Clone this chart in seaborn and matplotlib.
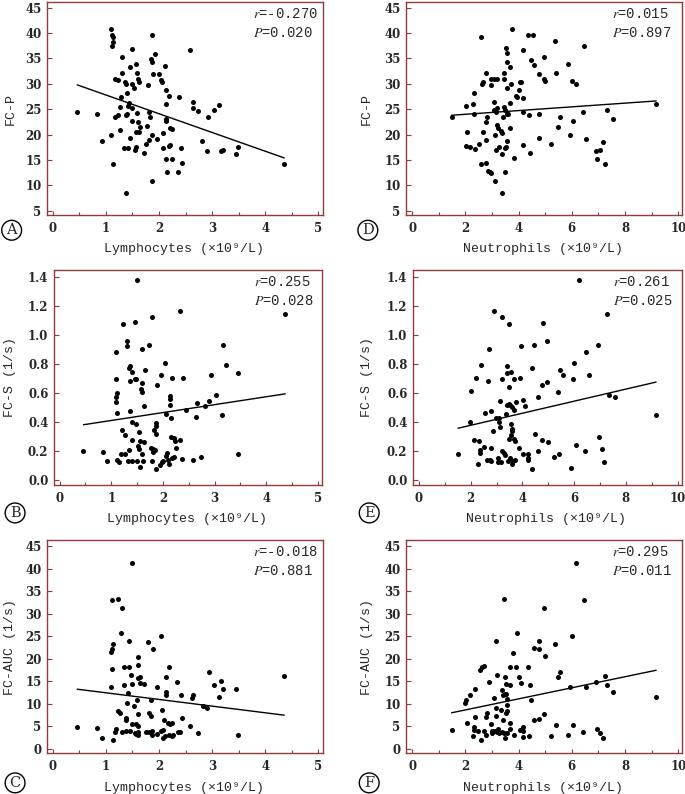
import matplotlib
matplotlib.use('Agg')
import matplotlib.pyplot as plt
from matplotlib.ticker import MultipleLocator, FormatStrFormatter
import seaborn as sns

# A: lymphocytes vs FC-P
lym_a = [0.46, 0.84, 0.92, 1.09, 1.12, 1.13, 1.14, 1.11, 1.10, 1.13,
         1.17, 1.23, 1.18, 1.22, 1.28, 1.27, 1.27, 1.30, 1.31, 1.36,
         1.37, 1.37, 1.39, 1.35, 1.41, 1.37, 1.39, 1.42, 1.44, 1.45,
         1.45, 1.49, 1.50, 1.52, 1.49, 1.50, 1.54, 1.57, 1.56, 1.58,
         1.60, 1.62, 1.59, 1.60, 1.57, 1.62, 1.65, 1.72, 1.76, 1.78,
         1.79, 1.82, 1.84, 1.85, 1.86, 1.87, 1.88, 1.86, 1.82, 1.86,
         1.93, 1.97, 2.00, 2.04, 2.06, 2.07, 2.07, 2.11, 2.13, 2.13,
         2.14, 2.14, 2.14, 2.15, 2.19, 2.18, 2.21, 2.20, 2.25, 2.25,
         2.35, 2.38, 2.41, 2.43, 2.58, 2.64, 2.65, 2.74, 2.93, 2.82,
         2.91, 3.03, 3.14, 3.17, 3.21, 3.45, 3.48, 4.36]
fcp_a = [24.5, 24.0, 18.7, 40.8, 39.6, 39.2, 38.3, 37.5, 20.0, 14.1,
         30.9, 30.8, 23.4, 23.9, 27.3, 25.5, 20.8, 35.3, 32.1, 30.4,
         30.0, 23.8, 24.0, 17.4, 17.4, 8.4, 28.1, 25.7, 26.2, 33.2,
         19.3, 36.9, 29.9, 29.2, 25.3, 22.7, 16.9, 17.6, 33.9, 32.1,
         30.9, 30.4, 24.2, 22.5, 20.5, 20.5, 21.4, 16.4, 18.1, 21.7,
         29.7, 24.5, 23.4, 34.8, 34.3, 39.6, 32.0, 19.9, 19.0, 10.8,
         35.8, 19.1, 32.0, 30.7, 30.4, 20.3, 17.4, 33.5, 26.0, 23.1,
         22.7, 28.7, 15.2, 12.6, 27.6, 17.8, 17.9, 21.2, 21.0, 15.2,
         12.7, 27.3, 17.4, 14.3, 36.7, 26.4, 25.2, 24.7, 23.5, 18.7,
         16.8, 24.8, 25.9, 16.7, 17.0, 16.2, 17.5, 14.2]

# B: lymphocytes vs FC-S
lym_b = [0.46, 0.83, 0.92, 1.09, 1.10, 1.09, 1.10, 1.12, 1.12, 1.12,
         1.15, 1.19, 1.21, 1.23, 1.26, 1.27, 1.30, 1.30, 1.32, 1.34,
         1.36, 1.36, 1.35, 1.37, 1.40, 1.40, 1.40, 1.41, 1.45, 1.45,
         1.48, 1.48, 1.49, 1.50, 1.52, 1.53, 1.54, 1.56, 1.56, 1.58,
         1.59, 1.59, 1.60, 1.60, 1.61, 1.63, 1.64, 1.66, 1.73, 1.76,
         1.78, 1.79, 1.80, 1.83, 1.81, 1.84, 1.86, 1.86, 1.86, 1.87,
         1.88, 1.94, 1.96, 1.98, 2.01, 2.04, 2.05, 2.06, 2.08, 2.10,
         2.12, 2.13, 2.14, 2.14, 2.15, 2.16, 2.17, 2.18, 2.21, 2.22,
         2.24, 2.25, 2.33, 2.33, 2.37, 2.39, 2.44, 2.59, 2.64, 2.66,
         2.73, 2.82, 2.89, 2.94, 3.03, 3.14, 3.16, 3.22, 3.45, 3.46,
         4.37]
fcs_b = [0.20, 0.19, 0.13, 0.885, 0.694, 0.536, 0.572, 0.602, 0.46, 0.136,
         0.122, 0.18, 0.347, 1.074, 0.313, 0.177, 0.926, 0.961, 0.129, 0.77,
         0.784, 0.478, 0.205, 0.685, 0.278, 0.398, 0.747, 0.133, 0.697, 1.087,
         0.694, 0.389, 0.133, 1.382, 0.234, 0.329, 0.214, 0.087, 0.271, 0.63,
         0.903, 0.609, 0.671, 0.177, 0.131, 0.26, 0.508, 0.756, 0.931, 0.223,
         0.129, 1.122, 0.214, 0.343, 0.191, 0.207, 0.395, 0.37, 0.317, 0.076,
         0.655, 0.103, 0.724, 0.122, 0.129, 0.807, 0.168, 0.453, 0.189, 0.138,
         0.113, 0.577, 0.559, 0.515, 0.43, 0.299, 0.149, 0.701, 0.287, 0.159,
         0.271, 0.221, 1.166, 0.278, 0.147, 0.703, 0.48, 0.136, 0.432, 0.529,
         0.159, 0.508, 0.545, 0.724, 0.584, 0.45, 0.933, 0.793, 0.736, 0.177,
         1.143]

# C: lymphocytes vs FC-AUC
lym_c = [0.46, 0.84, 0.92, 1.13, 1.11, 1.10, 1.12, 1.13, 1.12, 1.10,
         1.17, 1.19, 1.23, 1.22, 1.26, 1.30, 1.28, 1.30, 1.34, 1.35,
         1.37, 1.38, 1.38, 1.40, 1.41, 1.44, 1.44, 1.45, 1.50, 1.48,
         1.49, 1.50, 1.53, 1.55, 1.56, 1.57, 1.58, 1.60, 1.60, 1.61,
         1.60, 1.60, 1.61, 1.61, 1.64, 1.65, 1.71, 1.76, 1.79, 1.81,
         1.82, 1.85, 1.85, 1.87, 1.87, 1.88, 1.96, 1.97, 2.03, 2.04,
         2.06, 2.07, 2.07, 2.10, 2.13, 2.13, 2.13, 2.11, 2.17, 2.18,
         2.19, 2.20, 2.24, 2.24, 2.27, 2.34, 2.36, 2.40, 2.41, 2.43,
         2.58, 2.63, 2.65, 2.74, 2.83, 2.90, 2.94, 3.03, 3.14, 3.17,
         3.21, 3.45, 3.48, 4.36]
auc_c = [4.9, 4.6, 2.5, 2.1, 33.0, 21.6, 22.3, 23.2, 17.8, 13.8,
         3.8, 4.4, 33.2, 8.4, 8.0, 31.3, 25.7, 3.8, 18.3, 14.3,
         6.9, 6.4, 4.0, 10.2, 12.5, 18.3, 23.9, 4.1, 41.2, 16.4,
         14.5, 5.5, 9.5, 3.6, 5.6, 3.4, 10.9, 15.7, 18.6, 20.5,
         7.8, 5.2, 3.7, 3.2, 16.0, 14.6, 14.4, 3.8, 23.8, 3.8,
         7.9, 7.4, 10.9, 3.9, 3.0, 22.2, 3.4, 13.8, 25.1, 4.0,
         8.7, 4.3, 2.5, 6.4, 12.7, 11.9, 16.0, 2.8, 5.8, 3.0,
         18.3, 5.6, 2.8, 5.7, 3.0, 14.9, 3.8, 3.8, 12.0, 6.8,
         5.0, 11.3, 11.9, 3.5, 9.5, 9.0, 17.1, 14.3, 11.5, 15.0,
         13.4, 13.3, 3.2, 16.3]

# D: neutrophils vs FC-P
neu_d = [1.48, 2.01, 2.01, 2.08, 2.18, 2.28, 2.32, 2.33, 2.35, 2.50,
         2.58, 2.58, 2.63, 2.68, 2.68, 2.77, 2.77, 2.78, 2.82, 2.78,
         2.86, 2.93, 2.97, 2.98, 2.98, 3.07, 3.18, 3.07, 3.06, 3.12,
         3.15, 3.13, 3.18, 3.17, 3.18, 3.23, 3.26, 3.33, 3.36, 3.39,
         3.39, 3.41, 3.44, 3.46, 3.47, 3.48, 3.48, 3.48, 3.52, 3.55,
         3.56, 3.56, 3.55, 3.56, 3.54, 3.61, 3.69, 3.71, 3.69, 3.69,
         3.77, 3.84, 3.90, 3.94, 4.03, 4.04, 4.10, 4.16, 4.18, 4.18,
         4.16, 4.36, 4.39, 4.43, 4.48, 4.56, 4.59, 4.78, 4.78, 4.78,
         4.97, 4.97, 4.98, 5.22, 5.35, 5.39, 5.47, 5.54, 5.86, 5.94,
         6.01, 6.06, 6.17, 6.41, 6.46, 6.55, 6.90, 6.95, 7.06, 7.16,
         7.24, 7.34, 7.56, 9.17]
fcp_d = [23.4, 25.7, 17.7, 20.5, 17.5, 26.0, 28.1, 24.0, 17.2, 18.1,
         39.2, 14.1, 30.0, 30.3, 20.5, 32.1, 22.5, 19.0, 23.5, 14.3,
         12.9, 12.7, 12.5, 29.7, 31.0, 31.0, 31.0, 26.5, 24.8, 19.9,
         16.9, 10.8, 25.2, 24.5, 21.8, 21.2, 17.5, 20.7, 20.3, 16.2,
         8.4, 23.4, 32.1, 30.9, 25.5, 24.8, 17.3, 12.6, 37.0, 36.0,
         34.3, 29.2, 24.1, 18.8, 17.5, 24.0, 33.3, 30.0, 26.3, 21.2,
         40.8, 15.3, 27.6, 27.3, 28.7, 30.3, 30.4, 27.2, 36.7, 24.5,
         17.9, 39.6, 23.8, 16.4, 34.7, 39.6, 33.6, 32.0, 24.1, 19.3,
         35.3, 31.0, 30.5, 18.1, 38.4, 32.2, 21.4, 23.5, 33.9, 19.9,
         30.6, 22.7, 29.9, 24.5, 37.5, 19.2, 16.7, 15.2, 16.9, 18.6,
         14.2, 24.8, 23.0, 26.0]

# E: neutrophils vs FC-S
neu_e = [1.51, 1.99, 2.00, 2.11, 2.20, 2.30, 2.34, 2.36, 2.39, 2.35,
         2.51, 2.57, 2.62, 2.66, 2.70, 2.73, 2.80, 2.79, 2.80, 2.86,
         2.91, 2.97, 3.04, 3.05, 3.09, 3.10, 3.14, 3.14, 3.18, 3.20,
         3.22, 3.22, 3.28, 3.33, 3.36, 3.40, 3.41, 3.41, 3.46, 3.49,
         3.49, 3.49, 3.49, 3.51, 3.53, 3.55, 3.57, 3.57, 3.58, 3.59,
         3.60, 3.60, 3.64, 3.66, 3.68, 3.68, 3.70, 3.70, 3.77, 3.86,
         3.90, 3.95, 4.03, 4.04, 4.11, 4.20, 4.21, 4.22, 4.38, 4.39,
         4.43, 4.48, 4.59, 4.60, 4.75, 4.76, 4.78, 4.97, 4.99, 4.97,
         5.23, 5.37, 5.40, 5.45, 5.58, 5.87, 5.97, 6.01, 6.06, 6.18,
         6.42, 6.45, 6.56, 6.91, 6.96, 7.07, 7.17, 7.26, 7.35, 7.58,
         9.17]
fcs_e = [0.177, 0.398, 0.616, 0.278, 0.701, 0.108, 0.269, 0.207, 0.793, 0.189,
         0.228, 0.46, 0.138, 0.685, 0.903, 0.136, 0.131, 0.218, 0.478, 0.338,
         1.166, 0.428, 0.124, 0.154, 0.428, 0.40, 0.543, 0.368, 0.122, 0.20,
         1.122, 0.694, 0.189, 0.175, 0.453, 0.738, 0.789, 0.517, 0.133, 1.074,
         0.644, 0.526, 0.285, 0.149, 0.517, 0.743, 0.31, 0.389, 0.506, 0.336,
         0.349, 0.108, 0.129, 0.28, 0.694, 0.48, 0.269, 0.14, 0.536, 0.218,
         0.703, 0.924, 0.554, 0.179, 0.508, 0.179, 0.154, 0.136, 0.77, 0.078,
         0.933, 0.32, 0.575, 0.20, 0.655, 0.278, 1.085, 0.674, 0.26, 0.961,
         0.159, 0.605, 0.177, 0.756, 0.724, 0.085, 0.694, 0.805, 0.239, 1.382,
         0.198, 0.883, 0.724, 0.933, 0.297, 0.216, 0.126, 1.143, 0.584, 0.575,
         0.45]

# F: neutrophils vs FC-AUC
neu_f = [1.48, 1.99, 2.01, 2.08, 2.18, 2.28, 2.32, 2.33, 2.35, 2.38,
         2.48, 2.56, 2.60, 2.63, 2.69, 2.71, 2.77, 2.78, 2.82, 2.87,
         2.96, 2.99, 3.02, 3.07, 3.12, 3.14, 3.15, 3.17, 3.19, 3.19,
         3.22, 3.27, 3.34, 3.36, 3.39, 3.40, 3.43, 3.45, 3.46, 3.48,
         3.49, 3.49, 3.53, 3.53, 3.54, 3.55, 3.56, 3.57, 3.56, 3.68,
         3.69, 3.69, 3.69, 3.78, 3.84, 3.90, 3.93, 4.03, 4.04, 4.10,
         4.17, 4.17, 4.18, 4.37, 4.39, 4.43, 4.48, 4.59, 4.59, 4.78,
         4.78, 4.78, 4.97, 4.98, 4.97, 5.22, 5.36, 5.40, 5.47, 5.55,
         5.86, 5.95, 6.01, 6.06, 6.17, 6.41, 6.46, 6.55, 6.90, 6.95,
         7.06, 7.16, 7.24, 7.34, 7.56, 9.17]
auc_f = [4.2, 10.3, 10.8, 5.7, 12.0, 2.9, 4.3, 4.8, 7.1, 13.4,
         3.9, 17.6, 2.1, 18.1, 18.5, 4.0, 7.0, 3.0, 8.0, 14.9,
         5.6, 4.0, 3.6, 11.4, 4.0, 9.2, 7.4, 23.9, 16.5, 3.8,
         4.5, 3.5, 8.7, 13.2, 3.8, 6.5, 11.9, 3.6, 33.2, 15.9,
         12.1, 2.5, 7.9, 14.5, 12.3, 9.7, 11.0, 8.4, 3.5, 5.8,
         18.2, 14.3, 4.5, 21.4, 3.0, 18.3, 25.7, 16.0, 4.3, 14.6,
         4.9, 4.0, 2.7, 18.3, 2.9, 14.3, 10.9, 22.5, 6.4, 23.9,
         22.2, 6.6, 31.3, 20.6, 7.8, 2.9, 23.2, 5.4, 16.0, 17.0,
         3.0, 13.7, 25.1, 5.4, 41.2, 3.8, 33.0, 13.8, 14.9, 4.5,
         3.6, 2.5, 16.3, 14.3, 12.7, 11.5]

panel_letters = ['A', 'B', 'C', 'D', 'E', 'F']
r_text = ['-0.270', '0.255', '-0.018', '0.015', '0.261', '0.295']
p_text = ['0.020', '0.028', '0.881', '0.897', '0.025', '0.011']
x_labels = ['Lymphocytes (×10⁹/L)'] * 3 + ['Neutrophils (×10⁹/L)'] * 3
y_labels = ['FC-P', 'FC-S (1/s)', 'FC-AUC (1/s)'] * 2

sns.set_theme(style='white')
plt.rcParams['font.family'] = 'DejaVu Serif'
plt.rcParams['mathtext.fontset'] = 'stix'

FRAME = '#8f3b3b'
LABEL_FONT = 'Liberation Mono'

fig = plt.figure(figsize=(6.85, 7.94), dpi=100)

panels = [
    # x, y, axes rect, xlim, ylim, x step, y step, y format, ylabel x, xlabel y, letter pos
    (lym_a, fcp_a, [0.0686, 0.7292, 0.4029, 0.2683], (-0.11, 5.09), (4.15, 46.1), 1, 5, '%d', -0.109, -0.13, (0.017, 0.710)),
    (lym_b, fcs_b, [0.0788, 0.3892, 0.3912, 0.2708], (-0.11, 5.08), (-0.034, 1.448), 1, 0.2, '%.1f', -0.142, -0.13, (0.022, 0.354)),
    (lym_c, auc_c, [0.0686, 0.0516, 0.4029, 0.2683], (-0.11, 5.09), (-0.9, 46.4), 1, 5, '%d', -0.112, -0.137, (0.022, 0.014)),
    (neu_d, fcp_d, [0.5927, 0.7292, 0.4029, 0.2683], (-0.23, 10.14), (4.15, 46.1), 2, 5, '%d', -0.120, -0.13, (0.537, 0.710)),
    (neu_e, fcs_e, [0.6029, 0.3892, 0.3927, 0.2708], (-0.23, 10.17), (-0.034, 1.448), 2, 0.2, '%.1f', -0.149, -0.13, (0.539, 0.354)),
    (neu_f, auc_f, [0.5927, 0.0516, 0.4029, 0.2683], (-0.23, 10.14), (-0.9, 46.4), 2, 5, '%d', -0.120, -0.137, (0.539, 0.014)),
]

for i, (x, y, rect, xlim, ylim, xstep, ystep, yfmt, ylab_x, xlab_y, let_pos) in enumerate(panels):
    ax = fig.add_axes(rect)
    sns.regplot(x=x, y=y, ax=ax, ci=None, color='black',
                scatter_kws={'s': 13, 'linewidths': 0, 'alpha': 1},
                line_kws={'lw': 1.0})
    ax.set_xlim(*xlim)
    ax.set_ylim(*ylim)
    ax.xaxis.set_major_locator(MultipleLocator(xstep))
    ax.xaxis.set_minor_locator(MultipleLocator(xstep / 2))
    ax.yaxis.set_major_locator(MultipleLocator(ystep))
    ax.yaxis.set_major_formatter(FormatStrFormatter(yfmt))
    for s in ax.spines.values():
        s.set_color(FRAME)
        s.set_linewidth(1.0)
    ax.tick_params(axis='x', which='major', direction='in', length=3, width=0.8,
                   color=FRAME, bottom=True, labelsize=8.5, pad=5)
    ax.tick_params(axis='x', which='minor', direction='in', length=2, width=0.8,
                   color=FRAME, bottom=True)
    ax.tick_params(axis='y', which='major', direction='in', length=3.5, width=0.8,
                   color=FRAME, left=True, labelsize=8.5, pad=4)
    for lab in ax.get_xticklabels() + ax.get_yticklabels():
        lab.set_fontweight('bold')

    ax.set_xlabel(x_labels[i], fontfamily=LABEL_FONT, fontsize=9.5)
    ax.set_ylabel(y_labels[i], fontfamily=LABEL_FONT, fontsize=9.5)
    ax.xaxis.set_label_coords(0.495, xlab_y)
    ax.yaxis.set_label_coords(ylab_x, 0.5)

    ax.text(0.745, 0.945, r'$r$=' + r_text[i], transform=ax.transAxes,
            fontfamily=LABEL_FONT, fontsize=10, ha='left', va='center')
    ax.text(0.745, 0.855, r'$P$=' + p_text[i], transform=ax.transAxes,
            fontfamily=LABEL_FONT, fontsize=10, ha='left', va='center')

    fig.text(let_pos[0], let_pos[1], panel_letters[i], ha='center', va='center',
             fontsize=10.5, fontfamily='DejaVu Serif',
             bbox=dict(boxstyle='circle,pad=0.2', fc='white', ec='black', lw=1))

fig.savefig('out.png', dpi=100, facecolor='white')
